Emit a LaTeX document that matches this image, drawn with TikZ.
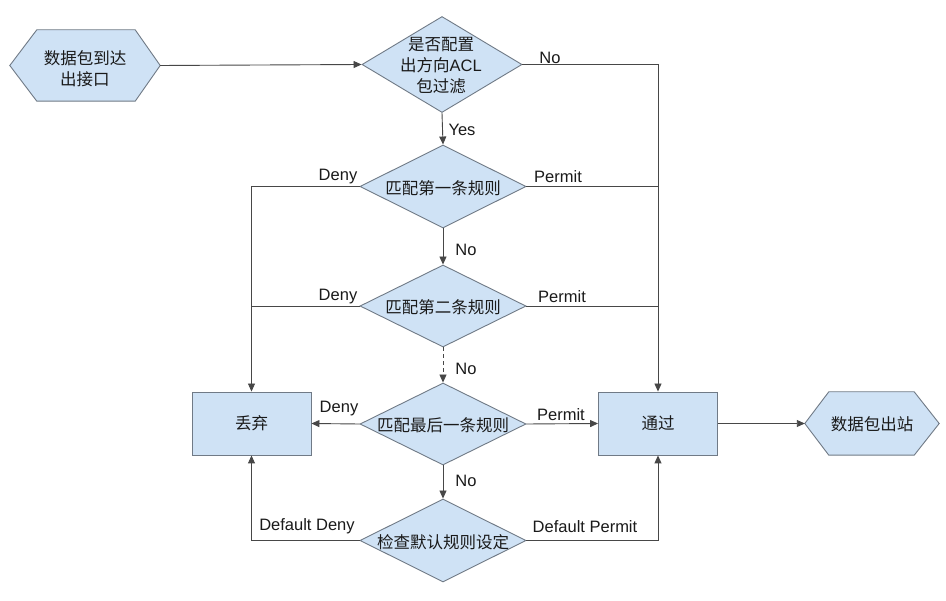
\documentclass[tikz,border=0pt]{standalone}
\usepackage{fontspec}
\setmainfont{Liberation Sans}
\newfontfamily\cjk{Noto Sans CJK SC}
\usetikzlibrary{shapes.geometric,arrows.meta,backgrounds}
\definecolor{boxfill}{HTML}{CFE2F5}
\definecolor{boxline}{HTML}{707A86}
\definecolor{wire}{HTML}{474747}
\definecolor{ink}{HTML}{1A1A1A}
\begin{document}
\begin{tikzpicture}[x=1pt,y=-1pt,
  shapebox/.style={fill=boxfill,draw=boxline,line width=0.9pt},
  dia/.style={shape=diamond,shapebox,inner sep=0pt},
  rectbox/.style={shape=rectangle,shapebox,minimum width=119pt,minimum height=63pt,inner sep=0pt,font=\cjk\fontsize{16.5}{21}\selectfont,text=ink},
  hexnode/.style={shape=rectangle,inner sep=0pt},
  txt/.style={font=\cjk\fontsize{16.5}{21}\selectfont,text=ink,align=center,inner sep=0pt},
  lbl/.style={font=\fontsize{16.5}{20}\selectfont,text=ink,inner sep=0pt},
  wireline/.style={draw=wire,line width=0.9pt},
  arr/.style={wireline,-{Triangle[length=8pt,width=7pt]}},
  dasharr/.style={arr,dash pattern=on 4pt off 3pt},
]
\begin{scope}[on background layer]
\fill[white] (0,0) rectangle (946,601);
\end{scope}
\useasboundingbox (0,0) rectangle (946,601);

% terminal shapes
\node[hexnode,minimum width=150pt,minimum height=71pt] (start) at (85,65.5) {};
\node[txt] (startt) at (85,68.5) {数据包到达\\出接口};
\node[hexnode,minimum width=134pt,minimum height=63pt] (end) at (872,423.5) {};
\node[txt] (endt) at (872,424) {数据包出站};

% decisions
\node[dia,minimum width=160pt,minimum height=96pt] (d1) at (442,64.5) {};
\node[txt] (d1t) at (441,66) {是否配置\\出方向{\rmfamily ACL}\\包过滤};
\node[dia,minimum width=166pt,minimum height=83pt] (d2) at (443,186.5) {};
\node[txt] (d2t) at (443,188) {匹配第一条规则};
\node[dia,minimum width=166pt,minimum height=82pt] (d3) at (443,306) {};
\node[txt] (d3t) at (443,307) {匹配第二条规则};
\node[dia,minimum width=166pt,minimum height=82pt] (d4) at (443,424) {};
\node[txt] (d4t) at (443,425) {匹配最后一条规则};
\node[dia,minimum width=166pt,minimum height=83pt] (d5) at (443,540.5) {};
\node[txt] (d5t) at (443,542) {检查默认规则设定};

% results
\node[rectbox] (drop) at (251.5,423.5) {丢弃};
\node[rectbox] (pass) at (658,423.5) {通过};

\begin{scope}[on background layer]
\draw[shapebox] (start.west) -- ([xshift=27pt]start.north west) -- ([xshift=-25pt]start.north east) -- (start.east) -- ([xshift=-25pt]start.south east) -- ([xshift=27pt]start.south west) -- cycle;
\draw[shapebox] (end.west) -- ([xshift=24pt]end.north west) -- ([xshift=-25pt]end.north east) -- (end.east) -- ([xshift=-25pt]end.south east) -- ([xshift=24pt]end.south west) -- cycle;
\end{scope}

% connectors
\draw[arr] (start.east) -- (d1.west);
\draw[arr] (d1.east) -| (pass.north);
\draw[arr] (d1.south) -- (d2.north);
\draw[arr] (d2.west) -| (drop.north);
\draw[wireline] (d2.east) -- (d2.east -| pass.north);
\draw[arr] (d2.south) -- (d3.north);
\draw[wireline] (d3.west) -- (d3.west -| drop.north);
\draw[wireline] (d3.east) -- (d3.east -| pass.north);
\draw[dasharr] (d3.south) -- (d4.north);
\draw[arr] (d4.west) -- (drop.east);
\draw[arr] (d4.east) -- (pass.west);
\draw[arr] (d4.south) -- (d5.north);
\draw[arr] (d5.west) -| (drop.south);
\draw[arr] (d5.east) -| (pass.south);
\draw[arr] (pass.east) -- (end.west);

% labels
\node[lbl] (l1) at (550,58) {No};
\node[lbl] (l2) at (462,129.5) {Yes};
\node[lbl] (l3) at (338,177) {Deny};
\node[lbl] (l4) at (558,177) {Permit};
\node[lbl] (l5) at (466,250) {No};
\node[lbl] (l6) at (338,296.5) {Deny};
\node[lbl] (l7) at (562,296.5) {Permit};
\node[lbl] (l8) at (466,369) {No};
\node[lbl] (l9) at (339,409) {Deny};
\node[lbl] (l10) at (561,414.5) {Permit};
\node[lbl] (l11) at (466,480.5) {No};
\node[lbl] (l12) at (307,526.5) {Default Deny};
\node[lbl] (l13) at (585,526.5) {Default Permit};
\end{tikzpicture}
\end{document}
